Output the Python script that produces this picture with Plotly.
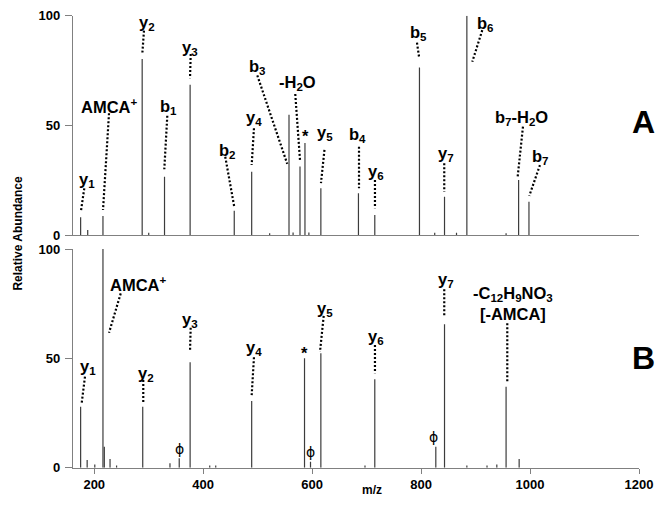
import plotly.graph_objects as go

# ---------------- data ----------------
# Panel A peaks (m/z, relative abundance)
mz_A = [175, 188, 216, 288, 300, 329, 376, 457, 489, 522, 557.5, 565, 577.7, 586.8, 594, 616,
        685, 715, 797, 825, 843, 865, 884, 956, 979, 998]
int_A = [8.1, 2.3, 8.7, 80.2, 1.0, 26.6, 68.5, 11.1, 28.9, 0.8, 54.8, 1.2, 31.2, 41.9, 1.2, 21.3,
         19.0, 9.1, 76.4, 1.0, 17.5, 1.0, 100, 0.8, 25.1, 15.2]

# Panel B peaks
mz_B = [175, 187, 201, 216, 218.5, 229, 241, 289, 339, 356, 376, 412, 423, 489, 586, 597, 616,
        697, 715, 827, 843, 884, 921, 939, 956, 980]
int_B = [27.9, 3.5, 1.5, 100, 9.6, 4.0, 1.0, 27.9, 2.0, 4.3, 48.2, 1.0, 1.0, 30.5, 50.0, 2.7, 52.3,
         1.0, 40.4, 9.6, 65.6, 1.0, 1.0, 1.5, 37.0, 4.0]

x_ticks = [200, 400, 600, 800, 1000, 1200]
y_ticks = [0, 50, 100]

# Labels: text, label position (m/z, abundance), leader start, leader end
labels_A = [
    ("y<sub>1</sub>", 187.2, 25.1, (181.7, 21.3), (175.7, 11.1)),
    ("AMCA<sup>+</sup>", 228.9, 58.8, (227.1, 55.5), (216.1, 11.4)),
    ("y<sub>2</sub>", 296.3, 96.8, (291.3, 93.2), (288.2, 82.5)),
    ("b<sub>1</sub>", 335.9, 58.2, (334.1, 54.4), (328.6, 30.0)),
    ("y<sub>3</sub>", 375.8, 85.1, (377.1, 82.5), (375.8, 71.5)),
    ("b<sub>2</sub>", 445.0, 38.3, (440.5, 35.7), (457.0, 12.9)),
    ("y<sub>4</sub>", 493.2, 53.2, (493.2, 48.7), (489.0, 31.9)),
    ("b<sub>3</sub>", 500.0, 76.7, (499.3, 72.8), (554.3, 32.4)),
    ("-H<sub>2</sub>O", 573.4, 69.4, (569.0, 64.3), (577.7, 34.2)),
    ("*", 588.1, 45.1, None, None),
    ("y<sub>5</sub>", 623.5, 46.4, (622.6, 38.8), (616.2, 23.7)),
    ("b<sub>4</sub>", 682.8, 45.6, (686.0, 40.3), (686.0, 21.3)),
    ("y<sub>6</sub>", 717.2, 28.9, (715.3, 25.1), (715.3, 12.2)),
    ("b<sub>5</sub>", 796.1, 92.0, (792.4, 87.7), (796.6, 80.6)),
    ("b<sub>6</sub>", 918.5, 96.2, (912.3, 93.4), (894.0, 79.0)),
    ("y<sub>7</sub>", 845.6, 36.9, (842.5, 32.7), (842.5, 19.7)),
    ("b<sub>7</sub>-H<sub>2</sub>O", 984.6, 53.2, (987.0, 49.4), (977.3, 26.6)),
    ("b<sub>7</sub>", 1020.0, 35.7, (1018.2, 31.9), (998.5, 17.8)),
]
labels_B = [
    ("y<sub>1</sub>", 189.1, 45.9, (183.0, 41.6), (177.0, 29.7)),
    ("AMCA<sup>+</sup>", 280.9, 84.0, (248.6, 79.7), (227.1, 61.7)),
    ("y<sub>2</sub>", 294.4, 42.8, (290.0, 40.1), (290.0, 29.1)),
    ("y<sub>3</sub>", 375.8, 67.5, (377.0, 64.0), (375.8, 53.0)),
    ("y<sub>4</sub>", 493.2, 54.6, (493.2, 50.5), (489.0, 33.2)),
    ("*", 586.8, 52.6, None, None),
    ("y<sub>5</sub>", 623.5, 72.6, (621.2, 69.4), (614.4, 53.0)),
    ("y<sub>6</sub>", 717.2, 59.9, (715.3, 56.1), (715.3, 43.2)),
    ("y<sub>7</sub>", 845.1, 85.8, (842.5, 81.6), (842.5, 68.8)),
    ("-C<sub>12</sub>H<sub>9</sub>NO<sub>3</sub><br>[-AMCA]", 968.0, 75.2, (958.2, 66.0), (958.2, 39.3)),
]
phi_B = [(356.1, 8.4), (597.3, 7.3), (823.6, 14.2)]

# ---------------- figure ----------------
FONT = "Liberation Sans, Arial, sans-serif"
PEAK_COLOR = "#3c3c3c"
AXIS_COLOR = "#808080"


def stick(mz, inten):
    xs, ys = [], []
    for m, h in zip(mz, inten):
        xs += [m, m, None]
        ys += [0, h, None]
    return xs, ys


fig = go.Figure()
xa, ya = stick(mz_A, int_A)
fig.add_trace(go.Scatter(x=xa, y=ya, mode="lines", line=dict(color=PEAK_COLOR, width=1.2),
                         xaxis="x", yaxis="y", hoverinfo="skip", showlegend=False))
xb, yb = stick(mz_B, int_B)
fig.add_trace(go.Scatter(x=xb, y=yb, mode="lines", line=dict(color=PEAK_COLOR, width=1.2),
                         xaxis="x2", yaxis="y2", hoverinfo="skip", showlegend=False))

annotations = []


def add_labels(labels, xr, yr):
    lx, ly = [], []
    for text, x, y, p0, p1 in labels:
        annotations.append(dict(x=x, y=y, xref=xr, yref=yr, text="<b>%s</b>" % text,
                                xanchor="center", yanchor="middle",
                                showarrow=False, font=dict(family=FONT, size=16.5, color="black")))
        if p0 is not None:
            lx += [p0[0], p1[0], None]
            ly += [p0[1], p1[1], None]
    fig.add_trace(go.Scatter(x=lx, y=ly, mode="lines",
                             line=dict(color="black", width=2.2, dash="2px,2px"),
                             xaxis=xr, yaxis=yr, hoverinfo="skip", showlegend=False,
                             cliponaxis=False))


add_labels(labels_A, "x", "y")
add_labels(labels_B, "x2", "y2")

for x, y in phi_B:
    annotations.append(dict(x=x, y=y, xref="x2", yref="y2", text="ϕ", showarrow=False,
                            xanchor="center", yanchor="middle",
                            font=dict(family="DejaVu Sans, sans-serif", size=14, color="black")))

annotations.append(dict(x=1.008, y=51.5, xref="paper", yref="y", text="<b>A</b>", showarrow=False,
                        xanchor="center", yanchor="middle",
                        font=dict(family=FONT, size=32, color="black")))
annotations.append(dict(x=1.008, y=50.2, xref="paper", yref="y2", text="<b>B</b>", showarrow=False,
                        xanchor="center", yanchor="middle",
                        font=dict(family=FONT, size=32, color="black")))
annotations.append(dict(x=-0.097, y=0.5177, xref="paper", yref="paper", text="<b>Relative Abundance</b>",
                        xanchor="center", yanchor="middle",
                        textangle=-90, showarrow=False, font=dict(family=FONT, size=12, color="black")))
annotations.append(dict(x=0.5277, y=-0.0486, xref="paper", yref="paper", text="<b>m/z</b>",
                        xanchor="center", yanchor="middle",
                        showarrow=False, font=dict(family=FONT, size=12, color="black")))

tickfont = dict(family=FONT, size=13, color="black", weight="bold")
xr = [161, 1200]
common = dict(showline=True, linecolor=AXIS_COLOR, linewidth=1.3, showgrid=False, zeroline=False,
              automargin=False, fixedrange=True, ticklabeloverflow="allow")

fig.update_layout(
    template="none",
    width=656, height=506,
    autosize=False,
    margin=dict(l=73, r=17, t=15, b=38, pad=0),
    paper_bgcolor="white", plot_bgcolor="white",
    showlegend=False,
    xaxis=dict(domain=[0, 1], range=xr, anchor="y", showticklabels=False, ticks="", **common),
    yaxis=dict(domain=[0.5143, 0.9985], range=[0, 100], anchor="x", tickvals=y_ticks, ticks="outside",
               ticklen=7, tickcolor=AXIS_COLOR, tickfont=tickfont, ticklabelstandoff=2, **common),
    xaxis2=dict(domain=[0, 1], range=xr, anchor="y2", tickvals=x_ticks, ticks="outside", ticklen=5,
                tickcolor=AXIS_COLOR, tickfont=tickfont, **common),
    yaxis2=dict(domain=[0.0007, 0.4834], range=[0, 100], anchor="x2", tickvals=y_ticks, ticks="outside",
                ticklen=7, tickcolor=AXIS_COLOR, tickfont=tickfont, ticklabelstandoff=2, **common),
    annotations=annotations,
)

# remove the default page margin so the 656x506 figure fills the window exactly
fig.write_html("out.html", config={"displayModeBar": False},
               post_script="document.body.style.margin='0';document.body.style.overflow='hidden';")
